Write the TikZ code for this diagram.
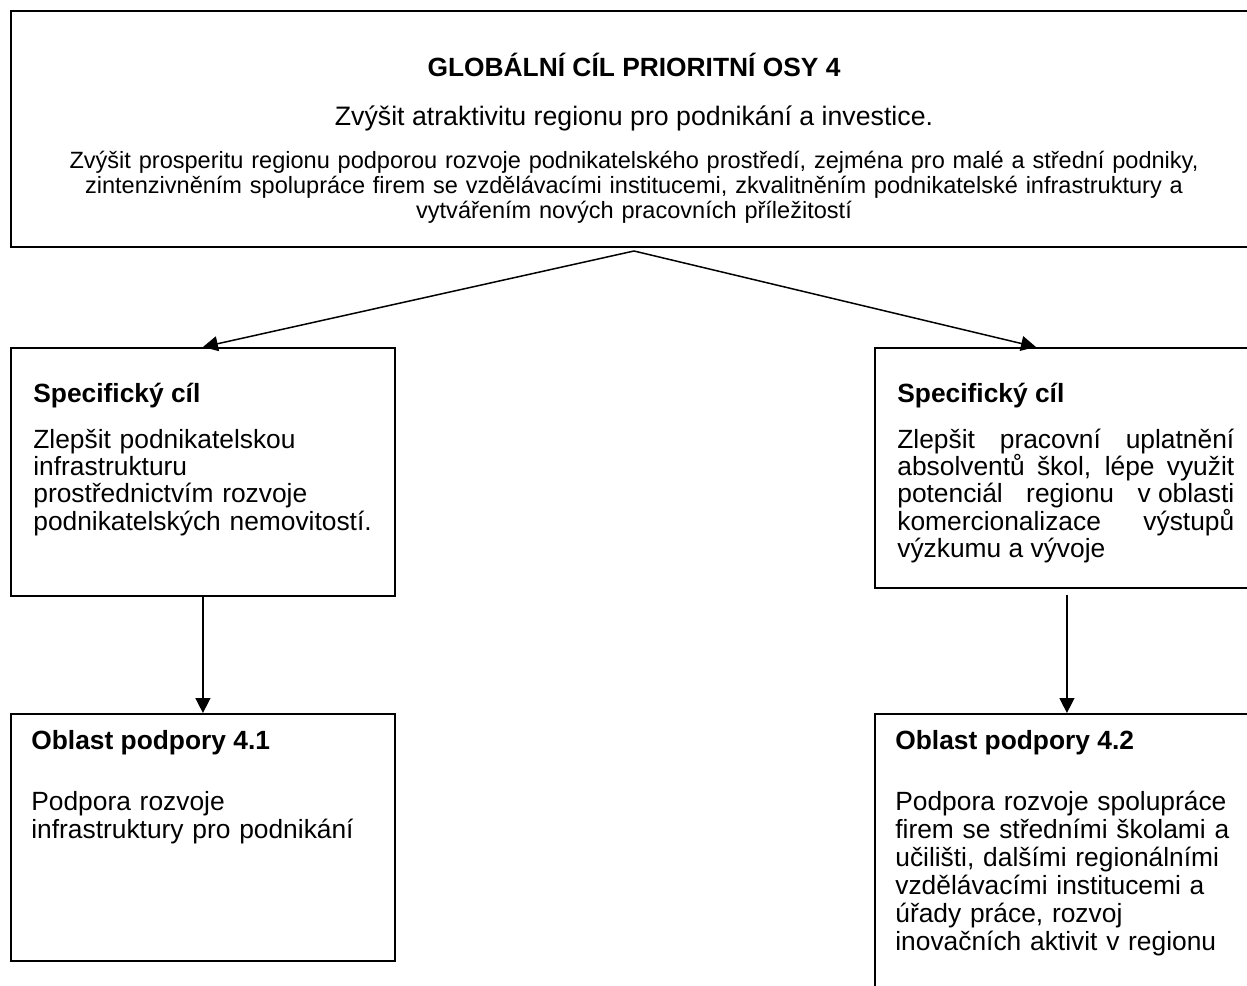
\documentclass[tikz,border=0pt]{standalone}
\usepackage{fontspec}
\setmainfont{Liberation Sans}
\usetikzlibrary{arrows.meta}
\newcommand{\bodysize}{\fontsize{15}{15.6}\selectfont}
\newcommand{\areasize}{\fontsize{15}{16}\selectfont}
\newcommand{\smallsize}{\fontsize{13.4}{14.2}\selectfont}
\tikzset{
  goalbox/.style={draw, line width=1.1pt, anchor=north west, inner sep=0pt},
  link/.style={line width=0.85pt, -{Triangle[length=8.5pt,width=8.5pt]}},
  boxhead/.style={anchor=base west, inner sep=0pt, font=\bfseries\bodysize},
  boxtext/.style={anchor=base west, inner sep=0pt, font=\bodysize},
}
\begin{document}
\begin{tikzpicture}[x=0.02cm, y=-0.02cm]
\useasboundingbox (0,0) rectangle (1247,986);
\clip (0,0) rectangle (1247,986);
% global goal
\node [goalbox, minimum width=24.96cm, minimum height=4.72cm] (goal) at (10,10) {};
\node [anchor=base, inner sep=0pt, font=\bfseries\bodysize] (goalhead) at (634,77) {GLOBÁLNÍ CÍL PRIORITNÍ OSY 4};
\node [anchor=base, inner sep=0pt, font=\fontsize{15.2}{16}\selectfont] (goalline) at (634,126) {Zvýšit atraktivitu regionu pro podnikání a investice.};
\node [anchor=base, inner sep=0pt, font=\smallsize, text width=24cm, align=center] (goaltext) at (634,169)
  {Zvýšit prosperitu regionu podporou rozvoje podnikatelského prostředí, zejména pro malé a střední podniky,\\
   zintenzivněním spolupráce firem se vzdělávacími institucemi, zkvalitněním podnikatelské infrastruktury a\\
   vytvářením nových pracovních příležitostí};
% specific goals
\node [goalbox, minimum width=7.68cm, minimum height=4.96cm] (spec1) at (10,347) {};
\node [boxhead] (spec1head) at (33,402) {Specifický cíl};
\node [boxtext, text width=6.9cm, align=left] (spec1text) at (33,448)
  {Zlepšit podnikatelskou\\ infrastrukturu\\ prostřednictvím rozvoje\\ podnikatelských nemovitostí.};
\node [goalbox, minimum width=7.68cm, minimum height=4.8cm] (spec2) at (874,347) {};
\node [boxhead] (spec2head) at (897,402) {Specifický cíl};
\node [boxtext, text width=6.74cm, align=justify] (spec2text) at (897,448)
  {\hyphenpenalty=10000 Zlepšit pracovní uplatnění\linebreak absolventů škol, lépe využit\linebreak potenciál regionu \mbox{v oblasti}\linebreak komercionalizace výstupů\linebreak výzkumu a vývoje};
% support areas
\node [goalbox, minimum width=7.68cm, minimum height=4.94cm] (area1) at (10,713) {};
\node [boxhead] (area1head) at (31,749) {Oblast podpory 4.1};
\node [boxtext, font=\areasize, text width=6.9cm, align=left] (area1text) at (31,810)
  {Podpora rozvoje\\ infrastruktury pro podnikání};
\node [goalbox, minimum width=7.68cm, minimum height=6cm] (area2) at (874,713) {};
\node [boxhead] (area2head) at (895,749) {Oblast podpory 4.2};
\node [boxtext, font=\areasize, text width=6.9cm, align=left] (area2text) at (895,810)
  {Podpora rozvoje spolupráce\\ firem se středními školami a\\ učilišti, dalšími regionálními\\ vzdělávacími institucemi a\\ úřady práce, rozvoj\\ inovačních aktivit v regionu};
% connectors
\coordinate (split) at (634,251);
\draw [link] (split) -- (spec1.north);
\draw [link] (split) -- ([xshift=-0.62cm]spec2.north);
\draw [link] (spec1.south) -- (area1.north);
\draw [link] ([yshift=-0.12cm]spec2.south) -- (area2.north);
\end{tikzpicture}
\end{document}
